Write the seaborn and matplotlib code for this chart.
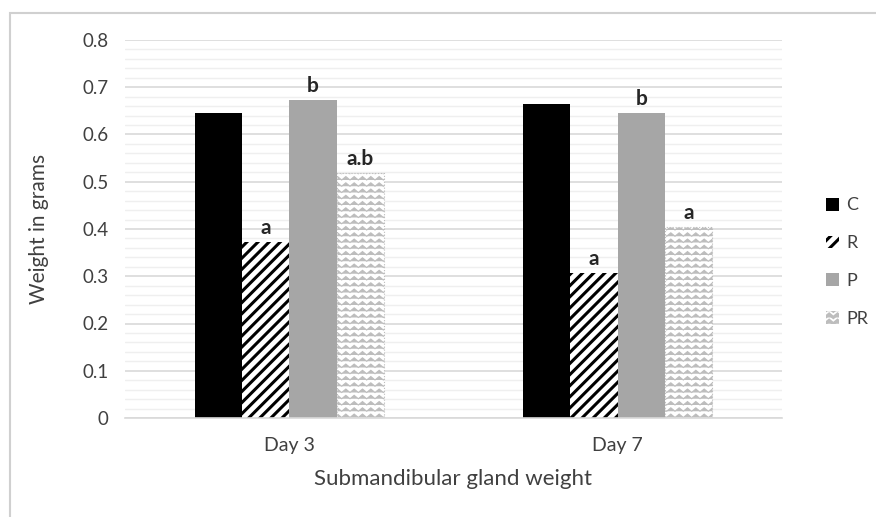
import warnings
import numpy as np
import pandas as pd
import matplotlib
matplotlib.use("Agg")
import matplotlib.pyplot as plt
import matplotlib.hatch as mhatch
from matplotlib.path import Path
from matplotlib.patches import Patch, Rectangle
from matplotlib.ticker import MultipleLocator
import seaborn as sns

warnings.filterwarnings("ignore")

# Data
days = ["Day 3", "Day 7"]
groups = ["C", "R", "P", "PR"]
c_vals = [0.646, 0.665]
r_vals = [0.373, 0.307]
p_vals = [0.673, 0.646]
pr_vals = [0.518, 0.404]
r_letters = ["a", "a"]
p_letters = ["b", "b"]
pr_letters = ["a.b", "a"]


# zigzag hatch (Excel "zig zag" pattern), registered as hatch char 'z'
class ZigZagHatch(mhatch.HatchPatternBase):
    def __init__(self, hatch, density):
        self.num_rows = 16 if "z" in hatch else 0
        self.num_periods = 12
        self.num_vertices = self.num_rows * (2 * self.num_periods + 1)

    def set_vertices_and_codes(self, vertices, codes):
        n = 2 * self.num_periods + 1
        xs = np.linspace(0, 1, n)
        amp = 0.55 / self.num_rows
        for i in range(self.num_rows):
            y0 = (i + 0.2) / self.num_rows
            ys = y0 + amp * (np.arange(n) % 2)
            vertices[i * n:(i + 1) * n, 0] = xs
            vertices[i * n:(i + 1) * n, 1] = ys
            codes[i * n] = Path.MOVETO
            codes[i * n + 1:(i + 1) * n] = Path.LINETO


mhatch._hatch_types.append(ZigZagHatch)

df = pd.DataFrame({
    "day": days * 4,
    "group": [g for g in groups for _ in days],
    "weight": c_vals + r_vals + p_vals + pr_vals,
})

sns.set_style("white")
plt.rcParams["font.family"] = ["Lato", "DejaVu Sans"]
plt.rcParams["hatch.linewidth"] = 2.2

fig = plt.figure(figsize=(8.76, 5.17), dpi=100)
ax = fig.add_axes([125 / 876, 1 - 418 / 517, 657 / 876, 378 / 517])

sns.barplot(data=df, x="day", y="weight", hue="group", hue_order=groups,
            width=0.576, ax=ax, legend=False, saturation=1)

styles = {
    "C": dict(facecolor="black", edgecolor="black", hatch=None, lw=0),
    "R": dict(facecolor="white", edgecolor="black", hatch="///", lw=0),
    "P": dict(facecolor="#a6a6a6", edgecolor="#a6a6a6", hatch=None, lw=0),
    "PR": dict(facecolor="white", edgecolor="#bdbdbd", hatch="z", lw=0.8),
}
for cont, g in zip(ax.containers, groups):
    st = styles[g]
    for bar in cont:
        bar.set_facecolor(st["facecolor"])
        bar.set_edgecolor(st["edgecolor"])
        bar.set_linewidth(st["lw"])
        if st["hatch"]:
            bar.set_hatch(st["hatch"])
            if hasattr(bar, "set_hatch_linewidth"):
                bar.set_hatch_linewidth(2.2 if g == "R" else 0.8)
        if g == "PR":
            bar.set_linestyle(":")

# significance letters
for cont, letters in zip(ax.containers[1:], [r_letters, p_letters, pr_letters]):
    for bar, txt in zip(cont, letters):
        ax.text(bar.get_x() + bar.get_width() / 2, bar.get_height() + 0.008, txt,
                ha="center", va="bottom", fontsize=15, fontweight="bold",
                color="#262626")

ax.set_ylim(0, 0.8)
ax.set_xlim(-0.5, 1.5)
ax.yaxis.set_minor_locator(MultipleLocator(0.02))
ax.set_yticks(np.arange(0, 0.81, 0.1))
ax.set_yticklabels(["0"] + [f"{v:.1f}" for v in np.arange(0.1, 0.81, 0.1)])
ax.grid(axis="y", which="major", color="#d9d9d9", lw=1.2)
ax.grid(axis="y", which="minor", color="#efefef", lw=1.0)
ax.set_axisbelow(True)
ax.tick_params(axis="both", which="both", length=0, labelcolor="#404040")
ax.tick_params(axis="y", pad=12, labelsize=13.5)
ax.tick_params(axis="x", pad=14, labelsize=14)
for s in ["top", "right", "left"]:
    ax.spines[s].set_visible(False)
ax.spines["bottom"].set_color("#d9d9d9")
ax.spines["bottom"].set_linewidth(1.2)

ax.set_xlabel("Submandibular gland weight", fontsize=16, color="#404040")
ax.set_ylabel("Weight in grams", fontsize=15, color="#404040")
ax.xaxis.set_label_coords(0.5, -0.135)
ax.yaxis.set_label_coords(-0.115, 0.5)

# legend
handles = []
for g in groups:
    st = styles[g]
    h = Patch(facecolor=st["facecolor"], edgecolor=st["edgecolor"],
              hatch=st["hatch"], lw=0)
    handles.append(h)
fig.legend(handles, groups, loc="center left",
           bbox_to_anchor=(810 / 876, 1 - 262 / 517), frameon=False,
           fontsize=13, labelcolor="#404040", handlelength=0.7,
           handleheight=0.7, handletextpad=0.4, labelspacing=1.2)

# chart area border (top and left visible)
fig.patches.append(Rectangle((10 / 876, -0.1), 1.2, 1 - 13 / 517 + 0.1,
                             transform=fig.transFigure, fill=False,
                             edgecolor="#d0d0d0", lw=1.5))

fig.savefig("out.png", dpi=100)
